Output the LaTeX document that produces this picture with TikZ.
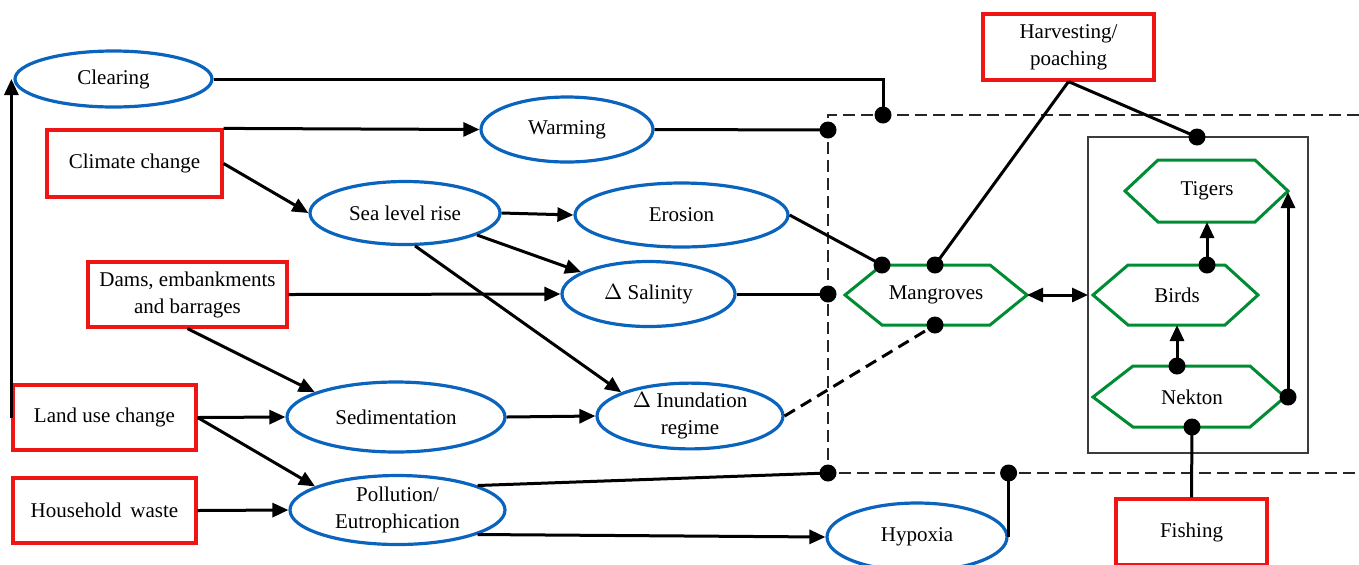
\documentclass[tikz,border=0pt]{standalone}
\usepackage{fontspec}
\setmainfont{Liberation Serif}
\usetikzlibrary{shapes.geometric,arrows.meta}
\definecolor{ellblue}{RGB}{10,100,190}
\definecolor{boxred}{RGB}{240,20,20}
\definecolor{hexgreen}{RGB}{0,140,50}
\definecolor{framegray}{RGB}{60,60,60}
\tikzset{
  lbl/.style={font=\fontsize{10.5}{13.5}\selectfont, align=center},
  ell/.style={lbl, ellipse, draw=ellblue, line width=1.6pt, inner sep=0pt},
  rbox/.style={lbl, rectangle, draw=boxred, line width=1.6pt, inner sep=0pt},
  hexline/.style={draw=hexgreen, line width=1.5pt, line join=miter},
  conn/.style={line width=1.5pt, black},
  arr/.style={conn, -{Triangle[length=8pt,width=7pt]}},
  darr/.style={conn, {Triangle[length=8pt,width=7pt]}-{Triangle[length=8pt,width=7pt]}},
  dot/.style={circle, fill=black, minimum size=8.5pt, inner sep=0pt},
  dashline/.style={line width=1.2pt, dash pattern=on 6pt off 3pt, black!85},
}
\begin{document}
\begin{tikzpicture}[x=0.5pt,y=-0.5pt]
\useasboundingbox (0,0) rectangle (1359,564);
% frames
\draw[dashline] (1359,115) -- (828,115) -- (828,473) -- (1359,473);
\draw[framegray, line width=1.4pt] (1088,137) rectangle (1308,453);
% ellipses
\node[ell, minimum width=98.5pt, minimum height=28pt] (clear) at (113.5,79) {Clearing};
\node[ell, minimum width=86pt, minimum height=32.5pt] (warm) at (567,129.5) {Warming};
\node[ell, minimum width=95pt, minimum height=31.5pt] (sea) at (405,213) {Sea level rise};
\node[ell, minimum width=106.5pt, minimum height=32pt] (ero) at (681.5,215) {Erosion};
\node[ell, minimum width=86.5pt, minimum height=32.5pt] (sal) at (648.5,294) {$\Delta$ Salinity};
\node[ell, minimum width=109pt, minimum height=35pt] (sed) at (396,417) {Sedimentation};
\node[ell, minimum width=107.5pt, minimum height=34.5pt] (poll) at (397.5,510) {Pollution/\\Eutrophication};
\node[ell, minimum width=93pt, minimum height=32.5pt] (inund) at (690,416) {$\Delta$ Inundation\\regime};
\node[ell, minimum width=90pt, minimum height=34pt] (hyp) at (917,537) {Hypoxia};
% boxes
\node[rbox, minimum width=87.5pt, minimum height=33.5pt] (cc) at (134.5,163.5) {Climate change};
\node[rbox, minimum width=99.5pt, minimum height=32.5pt] (dams) at (187.5,294.5) {Dams, embankments\\and barrages};
\node[rbox, minimum width=91.5pt, minimum height=32.5pt] (land) at (104.5,417.5) {Land use change};
\node[rbox, minimum width=91.5pt, minimum height=32.5pt] (house) at (104.5,510.5) {Household\, waste};
\node[rbox, minimum width=85.5pt, minimum height=33pt] (harv) at (1068.5,47) {Harvesting/\\poaching};
\node[rbox, minimum width=75.5pt, minimum height=33pt] (fish) at (1191.5,532) {Fishing};
% hexagons
\draw[hexline] (845,295) -- (882,265) -- (990,265) -- (1027,295) -- (990,325) -- (882,325) -- cycle;
\draw[hexline] (1093,295) -- (1128,265) -- (1225,265) -- (1258,295) -- (1225,325) -- (1128,325) -- cycle;
\draw[hexline] (1125,191) -- (1158,160) -- (1255,160) -- (1288,191) -- (1255,222) -- (1158,222) -- cycle;
\draw[hexline] (1093,397) -- (1133,366) -- (1250,366) -- (1285,397) -- (1250,427) -- (1133,427) -- cycle;
\node[lbl] (mang) at (936,295) {Mangroves};
\node[lbl] (birds) at (1177,295) {Birds};
\node[lbl] (tig) at (1207,191) {Tigers};
\node[lbl] (nek) at (1192,397) {Nekton};
\coordinate (mangE) at (1027,295);
\coordinate (grayW) at (1088,295);
\coordinate (tigS) at (1207,222);
\coordinate (birdsS) at (1177,325);
\coordinate (tigE) at (1288,192);
% dots
\node[dot] (dclr) at (883,115) {};
\node[dot] (dwarm) at (828,130) {};
\node[dot] (dsal) at (828,294) {};
\node[dot] (dpoll) at (828,473) {};
\node[dot] (dhyp) at (hyp.east |- dpoll) {};
\node[dot] (dero) at (882,265) {};
\node[dot] (dharv) at (935,265) {};
\node[dot] (dinund) at (935,325) {};
\node[dot] (dgray) at (1197,137) {};
\node[dot] (dbirds) at (1207,265) {};
\node[dot] (dnek) at (1177,366) {};
\node[dot] (dnekr) at (1288,397) {};
\node[dot] (dnekb) at (1192,427) {};
% connectors
\draw[arr] (land.west) -- (land.west |- clear.west);
\draw[conn] (clear.east) -| (dclr.center);
\draw[arr] (cc.north east) -- (warm.west);
\draw[conn] (warm.east) -- (dwarm.center);
\draw[arr] (cc.east) -- (sea.west);
\draw[arr] (sea.east) -- (ero.west);
\draw[arr] (sea.-17) -- (sal.162);
\draw[arr] (sea.-73) -- (inund.161);
\draw[conn] (ero.east) -- (dero.center);
\draw[arr] (dams.east) -- (sal.west);
\draw[conn] (sal.east) -- (dsal.center);
\draw[arr] (dams.south) -- (sed.163);
\draw[arr] (land.east) -- (sed.west);
\draw[arr] (land.east) -- (poll.164);
\draw[arr] (house.east) -- (poll.west);
\draw[arr] (sed.east) -- (inund.west);
\draw[conn, dash pattern=on 6pt off 3.5pt] (inund.east) -- (dinund.center);
\draw[conn] (poll.17) -- (dpoll.center);
\draw[arr] (poll.-17) -- (hyp.west);
\draw[conn] (hyp.east) -- (dhyp.center);
\draw[conn] (harv.south) -- (dharv.center);
\draw[conn] (harv.south) -- (dgray.center);
\draw[darr] (mangE) -- (grayW);
\draw[arr] (dbirds.center) -- (tigS);
\draw[arr] (dnek.center) -- (birdsS);
\draw[arr] (dnekr.center) -- (tigE);
\draw[conn] (fish.north) -- (dnekb.center);
\end{tikzpicture}
\end{document}
